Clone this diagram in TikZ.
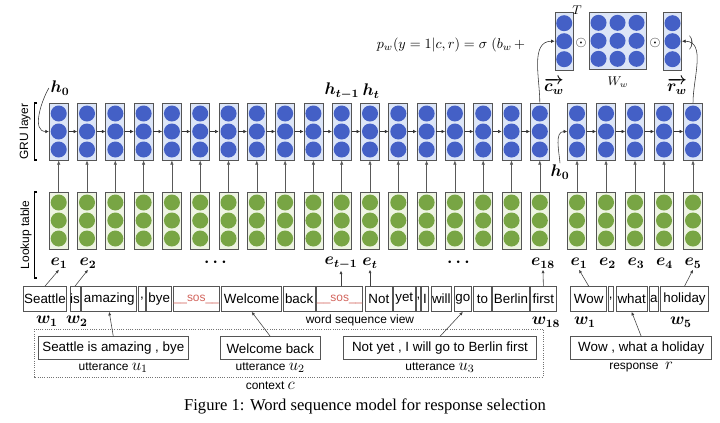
\documentclass[tikz,border=0pt]{standalone}
\usepackage{amsmath}
\usepackage{amssymb}
\usepackage{fontspec}
\setsansfont{Liberation Sans}
\newfontfamily\capfont{Liberation Serif}
\usepackage{tikz}
\usetikzlibrary{positioning, arrows.meta, calc}

\definecolor{gruball}{HTML}{4460C6}
\definecolor{grufill}{HTML}{DCE5F7}
\definecolor{lookball}{HTML}{78A544}
\definecolor{lookfill}{HTML}{EEF4E3}
\definecolor{sosred}{HTML}{D2645C}
\definecolor{boxline}{HTML}{555555}

\def\pxu{0.025cm}

\tikzset{
  colbox/.style={draw=boxline, line width=0.5pt, minimum width=19*\pxu, minimum height=57*\pxu, inner sep=0pt},
  grubox/.style={colbox, fill=grufill},
  lookbox/.style={colbox, fill=lookfill},
  wordbox/.style={draw=boxline, line width=0.5pt, minimum height=25*\pxu, inner sep=0pt, font=\sffamily\fontsize{9.5}{11}\selectfont},
  uttbox/.style={draw=boxline, line width=0.6pt, minimum height=23*\pxu, inner sep=0pt, font=\sffamily\fontsize{9.5}{11}\selectfont},
  sidelab/.style={font=\sffamily\fontsize{8.5}{10}\selectfont, rotate=90},
  smalllab/.style={font=\sffamily\fontsize{8.5}{10}\selectfont, inner sep=1pt},
  mlab/.style={font=\fontsize{12}{14}\selectfont\boldmath, inner sep=1pt},
  uparr/.style={draw=black!65, line width=0.4pt, -{Latex[length=3pt,width=2.4pt]}},
  recarr/.style={draw=black!80, line width=0.4pt, -{Latex[length=2.5pt,width=2.5pt]}},
  tagarr/.style={draw=black!75, line width=0.4pt, -{Latex[length=2.5pt,width=2.2pt]}},
}

\begin{document}
\begin{tikzpicture}[x=0.025cm, y=-0.025cm]
\useasboundingbox (0,0) rectangle (720,422);

% context side: lookup table and GRU layer
\foreach \k in {1,...,18}{
  \pgfmathsetmacro\cx{58.7+28.3*(\k-1)}
  \node[grubox] (gr\k) at (\cx,131.5) {};
  \node[lookbox] (lk\k) at (\cx,220.5) {};
  \foreach \dy in {-18,0,18}{
    \fill[gruball] (\cx,131.5+\dy) circle (0.2cm);
    \fill[lookball] (\cx,220.5+\dy) circle (0.2cm);
  }
  \draw[uparr] (lk\k) -- (gr\k);
}
\foreach \k [count=\n from 2] in {1,...,17}
  \draw[recarr] (gr\k) -- (gr\n);

% response side
\foreach \k in {1,...,5}{
  \pgfmathsetmacro\cx{577+29*(\k-1)}
  \node[grubox] (rgr\k) at (\cx,131.5) {};
  \node[lookbox] (rlk\k) at (\cx,220.5) {};
  \foreach \dy in {-18,0,18}{
    \fill[gruball] (\cx,131.5+\dy) circle (0.2cm);
    \fill[lookball] (\cx,220.5+\dy) circle (0.2cm);
  }
  \draw[uparr] (rlk\k) -- (rgr\k);
}
\foreach \k [count=\n from 2] in {1,...,4}
  \draw[recarr] (rgr\k) -- (rgr\n);

% side brackets
\draw[line width=1.2pt] (37,103) -- (34.5,103) -- (34.5,160) -- (37,160);
\node[sidelab] (grulab) at (25,131.5) {GRU layer};
\draw[line width=1.2pt] (37,192) -- (34.5,192) -- (34.5,278) -- (37,278);
\node[sidelab] (looklab) at (26,235) {Lookup table};

% hidden states
\node[mlab] (h0c) at (60,88) {$h_0$};
\draw[recarr] (h0c.west) to[out=240,in=180] (gr1.west);
\node[mlab] (htm) at (342,91) {$h_{t-1}$};
\node[mlab] (ht) at (371,91) {$h_t$};
\node[mlab] (h0r) at (560,172) {$h_0$};
\draw[recarr] (h0r.north) to[out=95,in=180] (rgr1.west);

% word sequence view
\foreach \n/\a/\b/\t in {1/23.3/66.7/Seattle, 2/70/80/is, 3/81.7/136.7/amazing,
    4/138.3/145.7/{,}, 5/146.7/171.7/bye,
    6/173.3/219.3/{\textcolor{sosred}{\fontsize{8.5}{10}\selectfont\_\_sos\_\_}},
    7/221.7/281.7/Welcome, 8/283.3/315/back,
    9/316.7/362.7/{\textcolor{sosred}{\fontsize{8.5}{10}\selectfont\_\_sos\_\_}},
    10/365/392.7/Not, 11/393.5/415/yet, 12/416/420.7/{,}, 13/421.7/428.3/I,
    14/431/451.7/will, 15/454/471.7/go, 16/473.3/491.7/to, 17/492.7/529.3/Berlin,
    18/530.7/556/first}{
  \pgfmathsetmacro\bw{\b-\a}
  \pgfmathsetmacro\cx{(\a+\b)/2}
  \node[wordbox, minimum width=\bw*\pxu] (cw\n) at (\cx,299) {\t};
}
\foreach \n/\a/\b/\t in {1/570.7/606.7/Wow, 2/608.3/613.3/{,}, 3/616/647.3/what,
    4/649.3/658.3/a, 5/660.7/708.3/holiday}{
  \pgfmathsetmacro\bw{\b-\a}
  \pgfmathsetmacro\cx{(\a+\b)/2}
  \node[wordbox, minimum width=\bw*\pxu] (rw\n) at (\cx,299) {\t};
}

% embeddings
\node[mlab] (ce1) at (59,263) {$e_1$};
\node[mlab] (ce2) at (88,263) {$e_2$};
\node[mlab] (cdots) at (217,262) {$\cdots$};
\node[mlab] (cet1) at (341,263) {$e_{t-1}$};
\node[mlab] (cet) at (370,263) {$e_t$};
\node[mlab] (cdots2) at (460,262) {$\cdots$};
\node[mlab] (ce18) at (543,263) {$e_{18}$};
\foreach \k in {1,...,5}{
  \pgfmathsetmacro\cx{579+28.5*(\k-1)}
  \node[mlab] (re\k) at (\cx,263) {$e_\k$};
}
\draw[tagarr] (cw1.north) -- (ce1.south);
\draw[tagarr] (cw2.north) -- (ce2.south);
\draw[tagarr] (cet1.south |- cw9.north) -- (cet1.south);
\draw[tagarr] (cet.south |- cw10.north) -- (cet.south);
\draw[tagarr] (cw18.north) -- (ce18.south);
\draw[tagarr] (rw1.north) -- (re1.south);
\draw[tagarr] (rw5.north) -- (re5.south);

\node[mlab] (cw1lab) at (47,321) {$w_1$};
\node[mlab] (cw2lab) at (77,321) {$w_2$};
\node[mlab] (cw18lab) at (546,322) {$w_{18}$};
\node[mlab] (rw1lab) at (585,322) {$w_1$};
\node[mlab] (rw5lab) at (681,322) {$w_5$};
\node[smalllab] (seqlab) at (360,320) {word sequence view};

% utterances, context and response
\draw[densely dotted, black!55, line width=0.6pt] (34,329) rectangle (543,377);
\node[uttbox, minimum width=150*\pxu] (u1) at (113.3,348.3) {Seattle is amazing , bye};
\node[uttbox, minimum width=100.7*\pxu] (u2) at (270.3,348.3) {Welcome back};
\node[uttbox, minimum width=193.4*\pxu] (u3) at (440,348.3) {Not yet , I will go to Berlin first};
\node[uttbox, minimum width=141*\pxu] (resp) at (641.2,348.3) {Wow , what a holiday};
\node[smalllab, below=0.5pt of u1] (ul1) {utterance \large$u_1$};
\node[smalllab, below=0.5pt of u2] (ul2) {utterance \large$u_2$};
\node[smalllab, below=0.5pt of u3] (ul3) {utterance \large$u_3$};
\node[smalllab, below=4pt of ul2] (ctx) {context \large$c$};
\node[smalllab, below=0.5pt of resp] (rl) {response \ \large$r$};
\draw[tagarr] (u1.north) -- (cw3.south);
\draw[tagarr] (u2.north) -- (cw7.south);
\draw[tagarr] (u3.north) -- (cw15.south);
\draw[tagarr] (resp.north) -- (rw3.south);

% matching score
\node (score) at (451,45) {$p_w(y=1|c,r)=\sigma\;(b_w\,+$};
\node[colbox, fill=grufill, minimum width=18.3*\pxu, minimum height=57.7*\pxu] (cvec) at (564.2,41.2) {};
\node[colbox, fill=grufill, minimum width=57.4*\pxu, minimum height=57*\pxu] (wmat) at (618,40.8) {};
\node[colbox, fill=grufill, minimum width=18.3*\pxu, minimum height=57.7*\pxu] (rvec) at (672.5,41.2) {};
\foreach \dy in {-18,0,18}{
  \fill[gruball] (564.2,41.2+\dy) circle (0.2cm);
  \fill[gruball] (672.5,41.2+\dy) circle (0.2cm);
  \foreach \mx in {598.5,617.5,636.5}
    \fill[gruball] (\mx,40.8+\dy) circle (0.2cm);
}
\node[font=\small] (tsup) at (577,10) {$T$};
\node (odot1) at (581,43) {$\odot$};
\node (odot2) at (655,43) {$\odot$};
\node (rpar) at (691,43) {$)$};
\node[font=\small] (wlab) at (618,82) {$W_w$};
\node[mlab] (cwlab) at (554,86) {$\overrightarrow{c_w}$};
\node[mlab] (rwlab) at (677,86) {$\overrightarrow{r_w}$};
\draw[recarr] (gr18.north) to[out=90,in=180] (cvec.west);
\draw[recarr] (rgr5.north) to[out=90,in=0] (rvec.east);

% caption
\node[font=\capfont\fontsize{11.8}{14}\selectfont] (cap) at (365,406) {Figure 1: Word sequence model for response selection};
\end{tikzpicture}
\end{document}
